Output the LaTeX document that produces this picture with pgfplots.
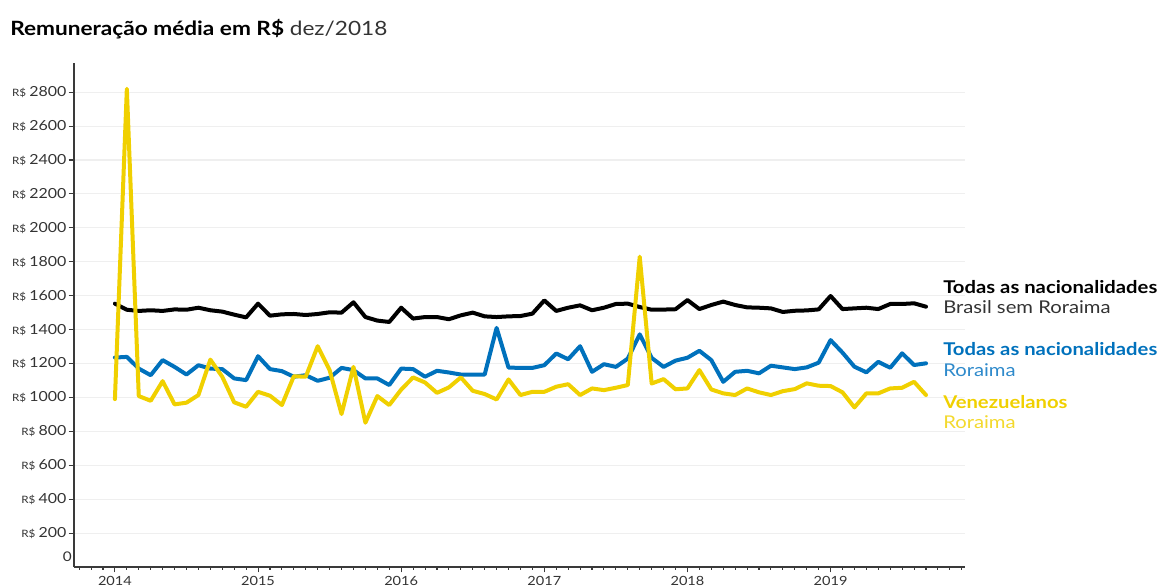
\documentclass[border=0pt]{standalone}
\usepackage{fontspec}
\setmainfont{Lato}[FakeStretch=1.15]
\usepackage{pgfplots}
\pgfplotsset{compat=1.18}
\usepackage{pgfplotstable}

\definecolor{cblack}{HTML}{000000}
\definecolor{cblue}{HTML}{0071BC}
\definecolor{cbluel}{HTML}{2F8ACB}
\definecolor{cyellow}{HTML}{F0D000}
\definecolor{cyellowl}{HTML}{F3D92E}
\definecolor{gridc}{HTML}{EFEFEF}
\definecolor{axisc}{HTML}{3A3A3A}
\definecolor{txt}{HTML}{333333}

\pgfplotstableread{
i black blue yellow
0 1553 1235 990
1 1517 1239 2820
2 1510 1170 1008
3 1514 1131 980
4 1510 1220 1096
5 1519 1180 959
6 1517 1135 969
7 1529 1190 1014
8 1514 1170 1223
9 1506 1167 1122
10 1488 1112 971
11 1472 1102 945
12 1553 1243 1033
13 1482 1167 1010
14 1490 1155 955
15 1492 1122 1125
16 1486 1131 1122
17 1492 1098 1302
18 1502 1116 1161
19 1500 1174 902
20 1561 1161 1180
21 1474 1112 851
22 1453 1112 1008
23 1445 1073 955
24 1529 1170 1046
25 1465 1167 1118
26 1474 1122 1088
27 1474 1157 1027
28 1461 1147 1059
29 1484 1135 1118
30 1500 1135 1039
31 1478 1135 1020
32 1474 1410 988
33 1478 1176 1106
34 1480 1174 1014
35 1494 1174 1033
36 1572 1190 1033
37 1510 1259 1063
38 1529 1225 1078
39 1543 1302 1014
40 1514 1151 1053
41 1529 1196 1043
42 1551 1180 1057
43 1553 1229 1073
44 1533 1372 1830
45 1517 1233 1082
46 1518 1180 1108
47 1520 1217 1048
48 1574 1234 1053
49 1521 1275 1161
50 1545 1220 1047
51 1565 1092 1024
52 1545 1151 1014
53 1531 1157 1053
54 1529 1142 1030
55 1525 1187 1014
56 1504 1177 1037
57 1511 1167 1049
58 1513 1177 1083
59 1519 1205 1069
60 1598 1338 1067
61 1521 1264 1030
62 1525 1181 941
63 1529 1148 1024
64 1521 1210 1024
65 1551 1175 1053
66 1551 1260 1057
67 1555 1191 1092
68 1535 1201 1014
}\data

\begin{document}
\begin{tikzpicture}
\path[use as bounding box] (0,0) rectangle (871.5pt,-441pt);
\node[anchor=base west, inner sep=0pt, text=black, font=\fontsize{14.75}{17}\selectfont] at (7.5pt,-26.5pt) {\textbf{Remuneração média em R\$} \textcolor{txt}{dez/2018}};
\begin{axis}[
  at={(55.5pt,-425.25pt)}, anchor=south west,
  scale only axis, width=668.25pt, height=378pt,
  xmin=-3.43, xmax=71.27, ymin=0, ymax=2972,
  axis lines*=left,
  axis line style={color=axisc, line width=1pt},
  xtick={0,12,24,36,48,60},
  xticklabels={2014,2015,2016,2017,2018,2019},
  minor xtick={-3,...,71},
  ytick={200,400,...,2800},
  extra y ticks={0},
  extra y tick labels={0},
  extra y tick style={major tick length=0pt, ymajorgrids=false, yticklabel style={yshift=7.5pt}},
  tick align=outside,
  major tick length=4pt,
  minor tick length=2pt,
  tick style={color=axisc, line width=0.8pt},
  ymajorgrids, grid style={color=gridc, line width=0.8pt},
  /pgf/number format/assume math mode=true,
  /pgf/number format/1000 sep={},
  yticklabel={\fontsize{7.6}{8}\selectfont R\$\hspace{2.5pt}\fontsize{10.4}{12}\selectfont\pgfmathprintnumber{\tick}},
  yticklabel style={text=txt, inner sep=1.5pt},
  xticklabel style={text=txt, font=\fontsize{9.5}{12}\selectfont, inner sep=2pt, yshift=-1pt},
  clip=false,
]
\addplot[cblack, line width=3pt, line join=round, line cap=round] table[x=i, y=black] {\data};
\addplot[cblue, line width=3pt, line join=round, line cap=round] table[x=i, y=blue] {\data};
\addplot[cyellow, line width=3pt, line join=round, line cap=round] table[x=i, y=yellow] {\data};
\end{axis}
\begin{scope}[every node/.style={anchor=base west, inner sep=0pt, font=\fontsize{13.2}{15}\selectfont}]
\node[text=black] at (707.25pt,-220pt) {\textbf{Todas as nacionalidades}};
\node[text=txt] at (707.25pt,-235pt) {Brasil sem Roraima};
\node[text=cblue] at (707.25pt,-266.8pt) {\textbf{Todas as nacionalidades}};
\node[text=cbluel] at (707.25pt,-282.5pt) {Roraima};
\node[text=cyellow] at (707.25pt,-306.2pt) {\textbf{Venezuelanos}};
\node[text=cyellowl] at (707.25pt,-321.2pt) {Roraima};
\end{scope}
\end{tikzpicture}
\end{document}
